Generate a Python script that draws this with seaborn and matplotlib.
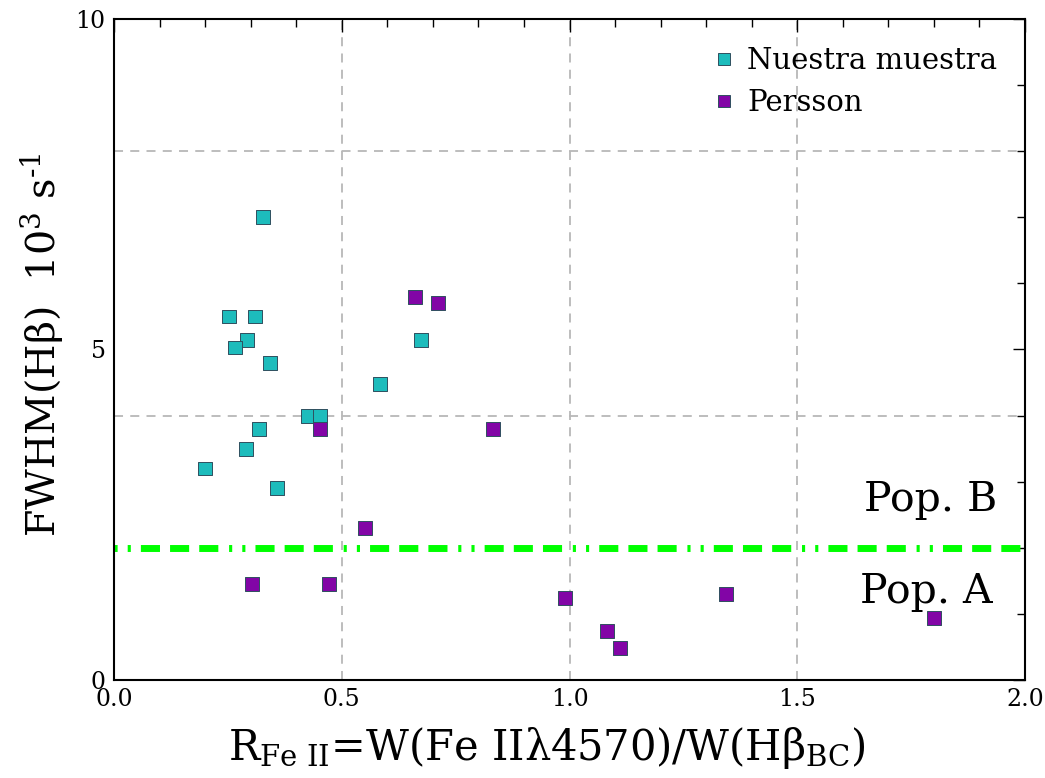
import numpy as np
import pandas as pd
import matplotlib
matplotlib.use("Agg")
import matplotlib.pyplot as plt
import seaborn as sns

# ---- data ----
nuestra_x = [0.327, 0.253, 0.310, 0.292, 0.266, 0.342, 0.426, 0.452, 0.318, 0.290, 0.200, 0.358, 0.584, 0.674]
nuestra_y = [7.00, 5.50, 5.50, 5.14, 5.03, 4.79, 4.00, 4.00, 3.80, 3.50, 3.20, 2.91, 4.48, 5.14]
persson_x = [0.661, 0.711, 0.452, 0.832, 0.551, 0.303, 0.472, 0.990, 1.082, 1.111, 1.344, 1.800]
persson_y = [5.80, 5.71, 3.80, 3.80, 2.30, 1.45, 1.45, 1.24, 0.74, 0.49, 1.30, 0.94]
series_names = ["Nuestra muestra", "Persson"]
boundary_y = 2.0
x_ticks = [0.0, 0.5, 1.0, 1.5, 2.0]
y_ticks = [0, 5, 10]
grid_x = [0.5, 1.0, 1.5]
grid_y = [4, 8]

df = pd.DataFrame({
    "x": nuestra_x + persson_x,
    "y": nuestra_y + persson_y,
    "grupo": [series_names[0]] * len(nuestra_x) + [series_names[1]] * len(persson_x),
})

sns.set_style("white")
plt.rcParams["font.family"] = ["DejaVu Serif", "DejaVu Sans"]
plt.rcParams["mathtext.fontset"] = "dejavuserif"
plt.rcParams["text.color"] = "black"
plt.rcParams["axes.labelcolor"] = "black"
plt.rcParams["xtick.color"] = "black"
plt.rcParams["ytick.color"] = "black"

fig = plt.figure(figsize=(10.45, 7.78), dpi=100)
ax = fig.add_axes([114 / 1045, 1 - 680 / 778, (1025 - 114) / 1045, (680 - 19) / 778])

for gx in grid_x:
    ax.axvline(gx, color="#b8b8b8", ls=(0, (5, 4)), lw=1.3, zorder=0)
for gy in grid_y:
    ax.axhline(gy, color="#b8b8b8", ls=(0, (5, 4)), lw=1.3, zorder=0)

palette = {series_names[0]: "#1dbcbc", series_names[1]: "#8205a6"}
sns.scatterplot(data=df, x="x", y="y", hue="grupo", palette=palette, marker="s",
                s=100, edgecolor="#2f4f5f", linewidth=0.7, ax=ax, zorder=3)

ax.axhline(boundary_y, color="#00ff00", lw=5,
           ls=(0, (0.45, 1.45, 0.45, 1.45, 2.75, 1.45, 2.75, 1.45, 2.75, 1.55)),
           dash_capstyle="butt", zorder=2)

ax.text(1.94, 2.73, "Pop. B", fontsize=29.5, ha="right", va="center")
ax.text(1.93, 1.33, "Pop. A", fontsize=29.5, ha="right", va="center")

ax.set_xlim(0, 2)
ax.set_ylim(0, 10)
ax.set_xticks(x_ticks)
ax.set_xticklabels([f"{t:.1f}" for t in x_ticks])
ax.set_yticks(y_ticks)
ax.set_xticks(np.arange(0, 2.01, 0.1), minor=True)
ax.set_yticks(np.arange(0, 10.01, 1), minor=True)
ax.tick_params(which="both", direction="in", top=True, right=True, labelsize=17, colors="black")
ax.tick_params(which="major", length=9, width=1)
ax.tick_params(which="minor", length=6, width=1)
ax.tick_params(axis="x", pad=6)
ax.tick_params(axis="y", pad=6)
for sp in ax.spines.values():
    sp.set_color("black")
    sp.set_linewidth(1.5)

ax.set_xlabel(r"R$_{\mathrm{Fe\ II}}$=W(Fe IIλ4570)/W(Hβ$_{\mathrm{BC}}$)", fontsize=30)
ax.xaxis.set_label_coords((547 - 114) / (1025 - 114), -(748 - 680) / (680 - 19), transform=ax.transAxes)
ax.xaxis.label.set_va("center")
ax.set_ylabel(r"FWHM(Hβ)  10$^{3}$ s$^{\text{-1}}$", fontsize=28.5)
ax.yaxis.set_label_coords(-(114 - 42) / (1025 - 114), (680 - 345) / (680 - 19), transform=ax.transAxes)
ax.yaxis.label.set_va("center")

leg = ax.legend(loc="upper right", frameon=False, fontsize=21, markerscale=0.85,
                handlelength=0.9, handletextpad=0.35, borderaxespad=0.55, labelspacing=0.48,
                title=None, bbox_to_anchor=(1.0, 1.0))

fig.savefig("out.png", dpi=100)
